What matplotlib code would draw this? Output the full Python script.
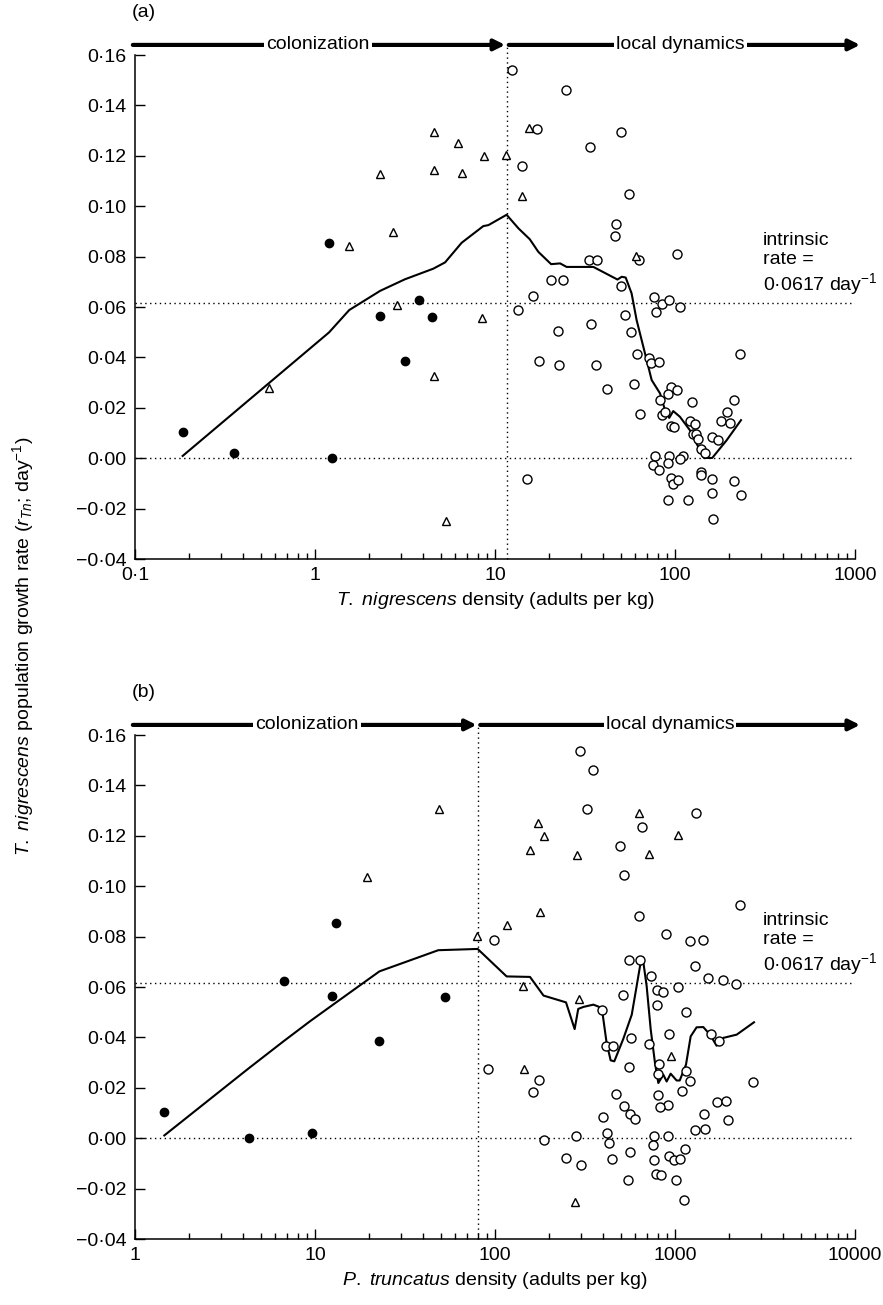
import numpy as np
import matplotlib
matplotlib.use('Agg')
from matplotlib import pyplot as plt
from matplotlib.ticker import FuncFormatter, FixedLocator, LogLocator, NullFormatter

plt.rcParams['font.family'] = ['Liberation Sans', 'DejaVu Sans']
plt.rcParams['mathtext.fontset'] = 'custom'
plt.rcParams['mathtext.rm'] = 'Liberation Sans'
plt.rcParams['mathtext.it'] = 'Liberation Sans:italic'
plt.rcParams['mathtext.bf'] = 'Liberation Sans:bold'

INTRINSIC = 0.0617

# ---- panel (a): T. nigrescens density ----
a_fill_x = [0.184, 0.353, 1.20, 1.24, 2.30, 3.18, 3.78, 4.45]
a_fill_y = [0.0104, 0.0020, 0.0855, 0.0001, 0.0564, 0.0385, 0.0627, 0.0561]

a_tri_x = [4.58, 6.25, 8.73, 11.5, 2.30, 4.58, 6.58, 2.72, 1.55, 2.84, 8.5, 4.6,
           0.553, 5.34, 15.45, 14.07, 60.5]
a_tri_y = [0.1293, 0.1252, 0.1199, 0.1202, 0.1126, 0.1143, 0.1130, 0.0898, 0.0843,
           0.0607, 0.0555, 0.0328, 0.0277, -0.0250, 0.1309, 0.1040, 0.0802]

a_open_x = [12.5, 24.7, 17.1, 49.9, 33.6, 14.2, 55.5, 46.8, 46.4, 102.6, 33.3, 36.9,
            62.9, 20.5, 23.9, 49.8, 16.3, 76.4, 84.3, 92.2, 78.4, 106.6, 13.5, 52.7,
            34.0, 22.3, 56.9, 61.5, 230.7, 17.5, 22.8, 36.4, 71.9, 73.8, 81.1, 41.7,
            59.2, 95, 91.8, 102.6, 82.5, 84.7, 63.9, 88, 124, 95, 98.7, 121.6, 128.5,
            126, 130.8, 134.8, 139, 146, 160.5, 173.4, 179.4, 201, 194.5, 212.6, 77.1,
            92.6, 110.8, 75.1, 81.5, 91, 106.6, 138.7, 138.7, 95.4, 97.3, 103.5, 161.5,
            212.6, 15.1, 91.8, 118.6, 159.6, 232.6, 162.6]
a_open_y = [0.154, 0.1461, 0.1307, 0.1293, 0.1235, 0.1158, 0.1047, 0.0928, 0.0881,
            0.0811, 0.0786, 0.0786, 0.0786, 0.0709, 0.0707, 0.0684, 0.0643, 0.0638,
            0.0611, 0.0627, 0.0581, 0.0601, 0.0589, 0.0569, 0.0532, 0.0505, 0.0499,
            0.0414, 0.0414, 0.0385, 0.0368, 0.0368, 0.0398, 0.0377, 0.0382, 0.0274,
            0.0296, 0.0282, 0.0253, 0.0269, 0.0230, 0.0171, 0.0175, 0.0184, 0.0222,
            0.0128, 0.0124, 0.0147, 0.0134, 0.0098, 0.0098, 0.0075, 0.0036, 0.0019,
            0.0086, 0.0071, 0.0148, 0.0140, 0.0185, 0.0229, 0.0010, 0.0010, 0.0010,
            -0.0027, -0.0045, -0.0021, -0.0005, -0.0056, -0.0067, -0.0078, -0.0103,
            -0.0087, -0.0082, -0.0091, -0.0081, -0.0165, -0.0167, -0.0139, -0.0146,
            -0.0243]

a_line_x = [0.184, 1.196, 1.55, 2.3, 3.16, 4.54, 5.28, 6.53, 8.61, 9.2, 11.6, 13.5,
            15.6, 17.4, 20.5, 23, 25, 35.2, 47.9, 50.6, 53.2, 57.4, 61.2, 66.7, 74.2,
            82.6, 88, 92.9, 97.8, 106.6, 121, 131.8, 144.9, 161, 193.5, 232.6]
a_line_y = [0.0009, 0.0499, 0.0588, 0.0664, 0.0710, 0.0752, 0.0777, 0.0855, 0.0921,
            0.0925, 0.0966, 0.0912, 0.0869, 0.0819, 0.0770, 0.0773, 0.0759, 0.0759,
            0.0709, 0.0720, 0.0717, 0.0654, 0.0548, 0.0442, 0.0310, 0.0257, 0.0191,
            0.0160, 0.0187, 0.0164, 0.0111, 0.0058, 0.0001, 0.0001, 0.0071, 0.0151]
a_split = 11.6

# ---- panel (b): P. truncatus density ----
b_fill_x = [1.455, 4.32, 9.58, 6.75, 12.4, 13.0, 22.8, 52.7]
b_fill_y = [0.0104, 0.0, 0.0021, 0.0625, 0.0563, 0.0853, 0.0384, 0.0560]

b_tri_x = [48.7, 19.4, 79.8, 116, 174, 634, 186, 156.5, 284, 1044, 717, 177.8,
           143.6, 293, 144.3, 950, 277]
b_tri_y = [0.1308, 0.1037, 0.0804, 0.0845, 0.1251, 0.1291, 0.1198, 0.1143, 0.1125,
           0.1202, 0.1129, 0.0898, 0.0603, 0.0553, 0.0275, 0.0328, -0.0255]

b_open_x = [98.7, 91, 297, 352, 326, 1308, 658, 495, 521, 2296, 634, 888, 1206, 1436,
            1297, 1518, 1854, 2174, 553, 641, 732, 798, 861, 1044, 514, 791, 1146, 395,
            926, 1585, 1750, 572, 414, 451, 717, 811, 557, 805, 1156, 1217, 1089, 2723,
            175, 162, 468, 805, 910, 829, 523, 564, 602, 396, 1718, 1920, 1449, 1962,
            1468, 1291, 186, 282, 421, 432, 764, 918, 758, 1132, 562, 247, 447, 767,
            926, 991, 1062, 302, 787, 839, 548, 1009, 1117]
b_open_y = [0.0785, 0.0273, 0.1538, 0.1460, 0.1307, 0.1291, 0.1234, 0.1158, 0.1046,
            0.0927, 0.0880, 0.0811, 0.0784, 0.0785, 0.0685, 0.0636, 0.0627, 0.0612,
            0.0706, 0.0709, 0.0642, 0.0587, 0.0580, 0.0600, 0.0570, 0.0530, 0.0499,
            0.0507, 0.0414, 0.0414, 0.0384, 0.0398, 0.0367, 0.0367, 0.0375, 0.0296,
            0.0283, 0.0253, 0.0267, 0.0228, 0.0186, 0.0222, 0.0229, 0.0183, 0.0175,
            0.0171, 0.0133, 0.0122, 0.0129, 0.0096, 0.0075, 0.0085, 0.0142, 0.0148,
            0.0096, 0.0071, 0.0038, 0.0031, -0.0006, 0.0010, 0.0021, -0.0021, 0.0010,
            0.0010, -0.0027, -0.0044, -0.0055, -0.0079, -0.0081, -0.0087, -0.0069,
            -0.0088, -0.0081, -0.0105, -0.0141, -0.0146, -0.0165, -0.0167, -0.0244]

b_line_x = [1.455, 4.26, 6.67, 9.38, 12.6, 22.8, 48.4, 80.1, 116, 156.5, 186, 248, 277,
            290, 310, 352, 392, 417, 439, 460, 516, 575, 612, 639, 661, 696, 733, 774,
            808, 861, 899, 946, 1021, 1062, 1151, 1222, 1318, 1436, 1565, 1703, 1854,
            2202, 2747]
b_line_y = [0.0011, 0.0276, 0.0384, 0.0464, 0.0530, 0.0662, 0.0746, 0.0751, 0.0642,
            0.0640, 0.0566, 0.0539, 0.0433, 0.0513, 0.0521, 0.0530, 0.0517, 0.0378,
            0.0309, 0.0305, 0.0394, 0.0490, 0.0603, 0.0682, 0.0719, 0.0603, 0.0431,
            0.0299, 0.0219, 0.0252, 0.0225, 0.0256, 0.0229, 0.0229, 0.0292, 0.0404,
            0.0440, 0.0441, 0.0411, 0.0367, 0.0398, 0.0411, 0.0460]
b_split = 80.5

FS = 14
DOT = (0, (1, 2.5))


def yfmt(v, pos):
    s = f'{abs(v):.2f}'.replace('.', '\u00b7')
    return ('\u2212' if v < -1e-9 else '') + s


def xfmt(v, pos):
    if v < 1:
        return f'{v:g}'.replace('.', '\u00b7')
    return f'{int(round(v))}'


def panel(ax, fx, fy, tx, ty, ox, oy, lx, ly, split, xlim, xlab, tag, col_x, loc_x):
    ax.set_xscale('log')
    ax.set_xlim(*xlim)
    ax.set_ylim(-0.04, 0.16)

    ax.axhline(INTRINSIC, color='k', lw=1, ls=DOT)
    ax.axhline(0, color='k', lw=1, ls=DOT)
    ax.axvline(split, ymin=0, ymax=1.02, color='k', lw=1, ls=DOT, clip_on=False)

    ax.plot(lx, ly, color='k', lw=1.5, zorder=3)
    ax.plot(ox, oy, 'o', ms=6.5, mfc='white', mec='k', mew=1, zorder=4)
    ax.plot(tx, ty, '^', ms=5.5, mfc='white', mec='k', mew=1, zorder=4)
    ax.plot(fx, fy, 'o', ms=6, color='k', zorder=4)

    for s in ['top', 'right']:
        ax.spines[s].set_visible(False)
    for s in ['left', 'bottom']:
        ax.spines[s].set_linewidth(1.1)

    ax.yaxis.set_major_locator(FixedLocator(np.arange(-0.04, 0.161, 0.02)))
    ax.yaxis.set_major_formatter(FuncFormatter(yfmt))
    ax.xaxis.set_major_locator(LogLocator(base=10, numticks=10))
    ax.xaxis.set_minor_locator(LogLocator(base=10, subs=np.arange(2, 10), numticks=10))
    ax.xaxis.set_major_formatter(FuncFormatter(xfmt))
    ax.xaxis.set_minor_formatter(NullFormatter())
    ax.tick_params(which='major', direction='in', length=7, width=1, labelsize=FS, pad=6)
    ax.tick_params(which='minor', direction='in', length=4, width=1)
    ax.set_xlabel(xlab, fontsize=FS, labelpad=4)

    # colonization / local dynamics arrows above the plot
    ya = 1.02
    sx = ax.transLimits.transform((np.log10(split), 0))[0]
    arr = dict(arrowstyle='-|>', lw=3, color='k', mutation_scale=16,
               shrinkA=0, shrinkB=0)
    ax.annotate('', xy=(sx - 0.002, ya), xytext=(-0.003, ya),
                xycoords='axes fraction', arrowprops=arr, annotation_clip=False)
    ax.annotate('', xy=(1.007, ya), xytext=(sx + 0.003, ya),
                xycoords='axes fraction', arrowprops=arr, annotation_clip=False)
    box = dict(facecolor='white', edgecolor='none', pad=1.5)
    ax.text(col_x, ya, 'colonization', transform=ax.transAxes, fontsize=FS,
            ha='center', va='center', bbox=box, zorder=5)
    ax.text(loc_x, ya, 'local dynamics', transform=ax.transAxes, fontsize=FS,
            ha='center', va='center', bbox=box, zorder=5)

    ax.text(0.872, 0.585, 'intrinsic\nrate =\n0\u00b70617 day$^{-1}$',
            transform=ax.transAxes, fontsize=FS, ha='left', va='center',
            linespacing=1.15)
    ax.text(-0.004, 1.085, tag, transform=ax.transAxes, fontsize=FS,
            ha='left', va='center')


fig = plt.figure(figsize=(8.83, 13.05), dpi=100)
ax1 = fig.add_axes([135 / 883, 1 - 559 / 1305, 720 / 883, 504 / 1305])
ax2 = fig.add_axes([135 / 883, 1 - 1239 / 1305, 720 / 883, 504 / 1305])

panel(ax1, a_fill_x, a_fill_y, a_tri_x, a_tri_y, a_open_x, a_open_y,
      a_line_x, a_line_y, a_split, (0.1, 1000),
      r'$T.\ nigrescens$ density (adults per kg)', '(a)', 0.254, 0.758)
panel(ax2, b_fill_x, b_fill_y, b_tri_x, b_tri_y, b_open_x, b_open_y,
      b_line_x, b_line_y, b_split, (1, 10000),
      r'$P.\ truncatus$ density (adults per kg)', '(b)', 0.239, 0.743)

fig.text(0.026, 0.505,
         r'$T.\ nigrescens$ population growth rate ($r_{Tn}$; day$^{-1}$)',
         rotation=90, fontsize=FS, ha='center', va='center')

fig.savefig('out.png', dpi=100)
